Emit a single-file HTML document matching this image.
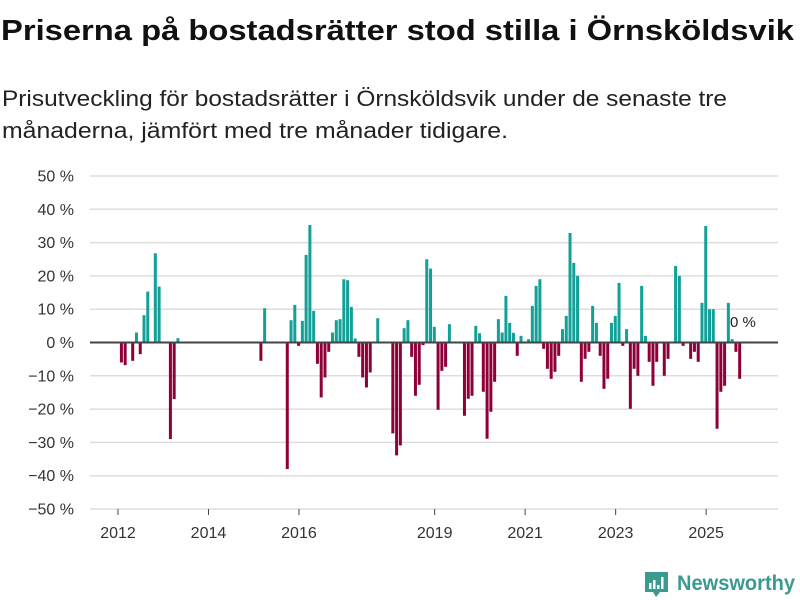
<!DOCTYPE html>
<html><head><meta charset="utf-8"><style>
html,body{margin:0;padding:0;background:#fff;width:800px;height:600px;overflow:hidden}
svg{display:block;font-family:"Liberation Sans","DejaVu Sans",sans-serif}
</style></head><body>
<svg id="chart" width="800" height="600" viewBox="0 0 800 600">
<text x="1" y="40" font-size="29" font-weight="bold" fill="#111" textLength="793" lengthAdjust="spacingAndGlyphs">Priserna på bostadsrätter stod stilla i Örnsköldsvik</text>
<text x="2" y="106" font-size="22" fill="#222" textLength="725" lengthAdjust="spacingAndGlyphs">Prisutveckling för bostadsrätter i Örnsköldsvik under de senaste tre</text>
<text x="2" y="138" font-size="22" fill="#222" textLength="506" lengthAdjust="spacingAndGlyphs">månaderna, jämfört med tre månader tidigare.</text>
<g id="grid"></g>
<g id="bars"></g>
<g id="xaxis"></g>
<text x="730" y="327" font-size="15" fill="#222">0 %</text>
<g>
<path d="M645 572 h23 v20 h-8 l-4 5 l-3 -5 h-8 z" fill="#3a9a90"/>
<rect x="649" y="583" width="2.5" height="6" fill="#fff"/>
<rect x="653" y="580" width="2.5" height="9" fill="#fff"/>
<rect x="657" y="585" width="2.5" height="4" fill="#fff"/>
<rect x="661" y="577" width="2.5" height="12" fill="#fff"/>
<text x="677" y="590" font-size="21" font-weight="bold" fill="#3a9a90" textLength="118" lengthAdjust="spacingAndGlyphs">Newsworthy</text>
</g>
</svg>
<script>
const yTicks = [50,40,30,20,10,0,-10,-20,-30,-40,-50];
const xTickYears = [2012,2014,2016,2019,2021,2023,2025];
const values = [
-6,-6.8,0,-5.5,3,-3.5,8.2,15.3,0,26.8,16.8,0,0,-29,-17,1.3,
0,0,0,0,0,0,0,0,0,0,0,0,0,0,0,0,0,0,0,0,0,
-5.5,10.3,0,0,0,0,0,
-38,6.7,11.3,-1,6.5,26.3,35.3,9.5,-6.4,-16.5,-10.5,-2.8,3,6.7,7,19,18.7,10.7,1.2,-4.3,-10.5,-13.5,-9,-0.3,7.3,0,0,0,
-27.3,-33.9,-30.9,4.3,6.7,-4.3,-16,-12.7,-0.8,25,22.2,4.7,-20.2,-8.5,-7.3,5.5,0,0,0,
-22,-16.9,-16,5,2.8,-14.8,-28.9,-20.8,-11.8,7,3,14,5.9,2.9,-4,2,0,1,11,17,19,
-1.9,-7.9,-10.9,-8.8,-4,4,8,32.9,23.9,20,-11.8,-4.9,-2.8,11,5.9,-4,-13.9,-10.9,5.9,8,17.9,-1,4,-19.9,-7.9,-10,17,2,-5.8,-13,-5.8,0,
-10,-4.9,0,23,20,-1,0,-4.9,-2.8,-5.8,11.9,35,10,10,-25.9,-14.8,-13,11.9,1,-2.8,-10.9
];
const NS='http://www.w3.org/2000/svg';
const x0=118, monthW=3.77, plotL=90, plotR=778;
function yScale(v){return 342.5 - v*3.33;}
function xMonth(i){return x0 + monthW*(i+0.9);}
function xYear(y){return x0 + (y-2012)*12*monthW;}
const grid=document.getElementById('grid');
yTicks.forEach(t=>{
  const l=document.createElementNS(NS,'line');
  
  
  l.setAttribute('x1',plotL);l.setAttribute('x2',plotR);
  l.setAttribute('y1',yScale(t));l.setAttribute('y2',yScale(t));
  l.setAttribute('stroke',t===0?'#444':'#ddd');l.setAttribute('stroke-width',t===0?2:1.5);
  if(t!==0)grid.appendChild(l);
  const tx=document.createElementNS(NS,'text');
  
  
  tx.setAttribute('x',74);tx.setAttribute('y',yScale(t)+5.5);
  tx.setAttribute('text-anchor','end');tx.setAttribute('font-size','16');tx.setAttribute('fill','#333');
  tx.textContent=(t<0?'\u2212'+(-t):t)+' %';
  grid.appendChild(tx);
});
const bars=document.getElementById('bars');
values.forEach((v,i)=>{
  if(v===0)return;
  const r=document.createElementNS(NS,'rect');
  
  
  const y=Math.min(yScale(v),yScale(0));
  r.setAttribute('x',xMonth(i)-1.5);r.setAttribute('width',3);
  r.setAttribute('y',y);r.setAttribute('height',Math.abs(yScale(v)-yScale(0)));
  r.setAttribute('fill',v>0?'#12a097':'#8e0038');
  bars.appendChild(r);
});
const zl=document.createElementNS(NS,'line');


zl.setAttribute('x1',plotL);zl.setAttribute('x2',plotR);
zl.setAttribute('y1',yScale(0));zl.setAttribute('y2',yScale(0));
zl.setAttribute('stroke','#444');zl.setAttribute('stroke-width',2);
bars.appendChild(zl);
const xa=document.getElementById('xaxis');
xTickYears.forEach(yr=>{
  const x=xYear(yr);
  const l=document.createElementNS(NS,'line');
  
  
  l.setAttribute('x1',x);l.setAttribute('x2',x);l.setAttribute('y1',509);l.setAttribute('y2',515);
  l.setAttribute('stroke','#444');
  xa.appendChild(l);
  const t=document.createElementNS(NS,'text');
  
  
  t.setAttribute('x',x);t.setAttribute('y',538);t.setAttribute('text-anchor','middle');
  t.setAttribute('font-size','16');t.setAttribute('fill','#333');
  t.textContent=yr;
  xa.appendChild(t);
});
</script>
</body></html>
